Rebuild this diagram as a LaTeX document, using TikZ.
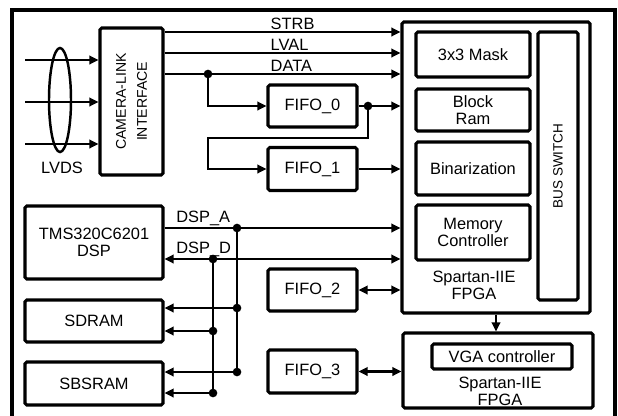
\documentclass[tikz,border=0pt]{standalone}
\usepackage{fontspec}
\setsansfont{Liberation Sans}
\usetikzlibrary{arrows.meta, calc, positioning}
\tikzset{
  % blocco funzionale
  blk/.style={draw, line width=2.6pt, rounded corners=1.5pt, align=center,
    font=\fontsize{14}{14.5}\selectfont\sffamily, inner sep=1pt},
  % blocco con scritta verticale
  vblk/.style={blk, rotate=90, font=\fontsize{12}{18}\selectfont\sffamily},
  % testo libero
  txt/.style={align=center, font=\fontsize{14}{14.5}\selectfont\sffamily, inner sep=1pt},
  % etichette dei segnali
  sigl/.style={font=\fontsize{14}{14}\selectfont\sffamily, inner sep=1pt, anchor=south west},
  % collegamenti
  wire/.style={line width=2.1pt},
  sig/.style={wire, -{Triangle[length=2.7mm, width=2.5mm]}},
  bisig/.style={wire, {Triangle[length=2.7mm, width=2.5mm]}-{Triangle[length=2.7mm, width=2.5mm]}},
  frame/.style={line width=2.6pt},
}

\begin{document}
\begin{tikzpicture}[x=0.03cm, y=-0.03cm]
  \useasboundingbox (0,0) rectangle (618,415);
  \draw[frame] (12,416) -- (12,10) -- (615,10) -- (615,416);

  % interfaccia camera
  \node[vblk, minimum width=4.41cm, minimum height=1.89cm] (cam) at (131.5,101.5) {CAMERA-LINK\\INTERFACE};
  \coordinate (lvdsc) at (60,100);
  \foreach \y [count=\i] in {60,102,144} {
    \coordinate (in\i) at (25,\y);
    \draw[sig] (in\i) -- (in\i -| cam.north);
  }
  \draw[wire] (lvdsc) ellipse [x radius=0.33cm, y radius=1.56cm];
  \node[txt] (lvds) at (62,168) {LVDS};

  % FPGA principale
  \node[blk, minimum width=5.64cm, minimum height=8.73cm] (fpga) at (496,167.5) {};
  \node[blk, minimum width=3.42cm, minimum height=1.35cm] (mask) at (473,54.5) {3x3 Mask};
  \node[blk, minimum width=3.42cm, minimum height=1.26cm] (bram) at (473,110) {Block\\Ram};
  \node[blk, minimum width=3.42cm, minimum height=1.59cm] (binar) at (473,168.5) {Binarization};
  \node[blk, minimum width=3.42cm, minimum height=1.65cm] (memctl) at (473,232.5) {Memory\\Controller};
  \node[txt] (fpgatxt) at (474,285) {Spartan-IIE\\FPGA};
  \node[vblk, font=\fontsize{11.5}{12}\selectfont\sffamily, minimum width=8.04cm, minimum height=1.2cm] (busw) at (558,166) {BUS SWITCH};

  % segnali della camera
  \foreach \y/\s in {32/STRB, 53/LVAL, 74/DATA}
    \draw[sig] (cam.south |- 0,\y) -- node[sigl, pos=0.44] {\s} (fpga.west |- 0,\y);

  % FIFO
  \node[blk, minimum width=2.67cm, minimum height=1.26cm] (fifo0) at (312.5,106) {FIFO\_0};
  \node[blk, minimum width=2.67cm, minimum height=1.29cm] (fifo1) at (312.5,169) {FIFO\_1};
  \node[blk, minimum width=2.67cm, minimum height=1.26cm] (fifo2) at (312.5,290) {FIFO\_2};
  \node[blk, minimum width=2.67cm, minimum height=1.29cm] (fifo3) at (312.5,371.5) {FIFO\_3};

  \coordinate (dj) at (208,74);
  \coordinate (f0j) at (368,106);
  \draw[sig] (dj) |- (fifo0.west);
  \draw[sig] (fifo0.east) -- (fifo0.east -| fpga.west);
  \draw[sig] (f0j) |- (208,138) |- (fifo1.west);
  \draw[sig] (fifo1.east) -- (fifo1.east -| fpga.west);
  \draw[bisig] (fifo2.east) -- (fifo2.east -| fpga.west);
  \fill (dj) circle (1.3mm) (f0j) circle (1.3mm);

  % DSP e memorie
  \node[blk, minimum width=4.14cm, minimum height=2.19cm] (dsp) at (94,242.5) {TMS320C6201\\DSP};
  \node[blk, minimum width=4.14cm, minimum height=1.26cm] (sdram) at (94,321) {SDRAM};
  \node[blk, minimum width=4.14cm, minimum height=1.29cm] (sbsram) at (94,383.5) {SBSRAM};

  \draw[sig] (dsp.east |- 0,228) -- node[sigl, pos=0.04] {DSP\_A} (fpga.west |- 0,228);
  \draw[bisig] (dsp.east |- 0,259) -- node[sigl, pos=0.04] {DSP\_D} (fpga.west |- 0,259);

  \coordinate (busA) at (237,228);
  \coordinate (busAsd) at (237,308);
  \coordinate (busAsb) at (237,372);
  \coordinate (busD) at (213,259);
  \coordinate (busDsd) at (213,331);
  \coordinate (busDsb) at (213,393);
  \draw[wire] (busA) -- (busAsb);
  \draw[wire] (busD) -- (busDsb);
  \draw[sig] (busAsd) -- (busAsd -| sdram.east);
  \draw[sig] (busDsd) -- (busDsd -| sdram.east);
  \draw[sig] (busAsb) -- (busAsb -| sbsram.east);
  \draw[sig] (busDsb) -- (busDsb -| sbsram.east);
  \foreach \p in {busA, busAsd, busAsb, busD, busDsd, busDsb}
    \fill (\p) circle (1.3mm);

  % FPGA video
  \node[blk, minimum width=5.7cm, minimum height=2.25cm] (fpga2) at (498,370.5) {};
  \node[blk, minimum width=4.2cm, minimum height=0.75cm] (vga) at (502,356.5) {VGA controller};
  \node[txt] (fpga2txt) at (500,391) {Spartan-IIE\\FPGA};
  \draw[sig] (fpga.south) -- (fpga.south |- fpga2.north);
  \draw[bisig] (fifo3.east) -- (fifo3.east -| fpga2.west);
\end{tikzpicture}
\end{document}
